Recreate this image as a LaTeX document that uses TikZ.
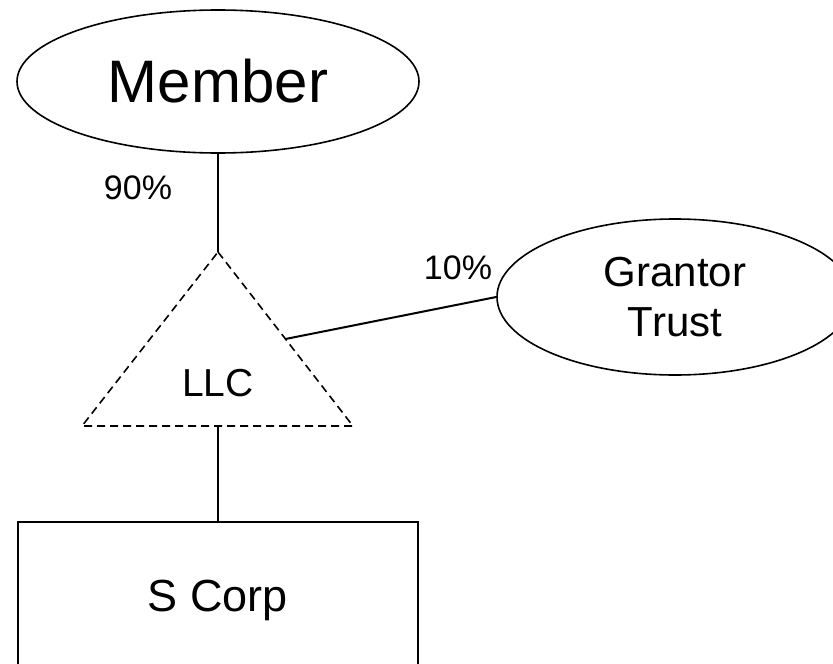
\documentclass[tikz,border=0pt]{standalone}
\usepackage{fontspec}
\setmainfont{Liberation Sans}
\usetikzlibrary{shapes.geometric,calc}
\tikzset{
  oval/.style={ellipse, draw, line width=1.6pt, inner sep=0pt, align=center},
  box/.style={rectangle, draw, line width=2.2pt, inner sep=0pt, align=center},
  link/.style={line width=2pt},
  dashtri/.style={line width=1.6pt, dash pattern=on 8pt off 5pt},
  pct/.style={inner sep=0pt, font=\fontsize{34}{40}\selectfont}
}
\begin{document}
\begin{tikzpicture}[x=1pt,y=-1pt]
\path[use as bounding box, clip] (0,0) rectangle (833,664);
\fill[white] (0,0) rectangle (833,664);
% nodes
\node[oval, minimum width=402pt, minimum height=143pt, font=\fontsize{60}{72}\selectfont] (member) at (218,81.5) {Member};
\node[oval, minimum width=356pt, minimum height=156pt, font=\fontsize{42}{50}\selectfont] (grantor) at (675,297) {Grantor\\Trust};
\node[box, minimum width=400pt, minimum height=156pt, font=\fontsize{45}{54}\selectfont] (scorp) at (218,600) {S Corp};
% LLC triangle
\coordinate (llcA) at (218,252);
\coordinate (llcL) at (82,426);
\coordinate (llcR) at (353,426);
\coordinate (llcB) at (218,426);
\draw[dashtri] (llcA) -- (llcR) -- (llcL) -- cycle;
\node[inner sep=0pt, font=\fontsize{39}{47}\selectfont] (llc) at (218,383) {LLC};
\coordinate (llcS) at ($(llcA)!0.5!(llcR)$);
% connectors
\draw[link] (member.south) -- (llcA);
\draw[link] (llcB) -- (scorp.north);
\draw[link] (llcS) -- (grantor.west);
% labels
\node[pct] (p90) at (138,188) {90\%};
\node[pct] (p10) at (458,268) {10\%};
\end{tikzpicture}
\end{document}
